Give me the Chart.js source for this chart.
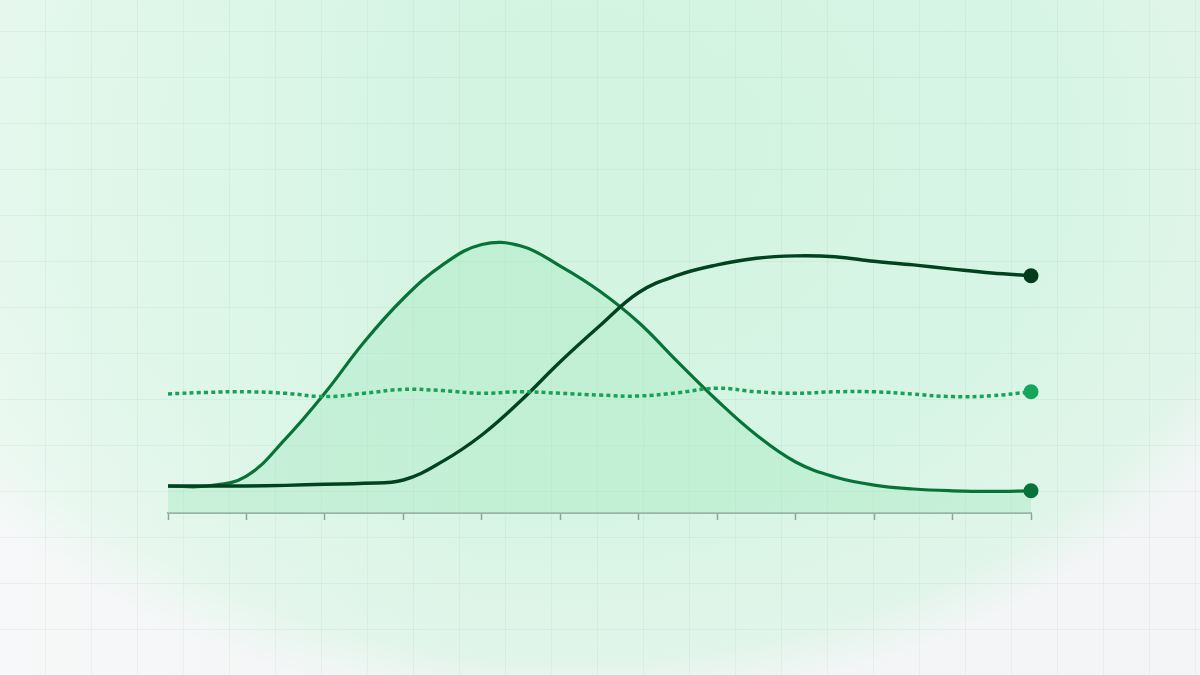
<!DOCTYPE html>
<html>
<head>
<meta charset="utf-8">
<script src="https://cdn.jsdelivr.net/npm/chart.js@4"></script>
<style>
  html, body { margin: 0; padding: 0; }
  body {
    width: 1200px;
    height: 675px;
    overflow: hidden;
    background-color: #f3f5f6;
    background-image:
      repeating-linear-gradient(90deg, transparent 0 45px, rgba(40, 90, 60, 0.05) 45px 46px),
      repeating-linear-gradient(0deg, transparent 0 45px, rgba(40, 90, 60, 0.05) 45px 46px),
      linear-gradient(90deg, rgba(255, 255, 255, 0.3), rgba(255, 255, 255, 0) 40%),
      radial-gradient(ellipse 770px 565px at 570px 150px, #d3f4e1 0%, #d7f5e4 65%, #e1f5ea 90%, #f3f5f6 99%);
  }
  #wrap { position: absolute; left: 0; top: 0; width: 1200px; height: 675px; }
</style>
</head>
<body>
<div id="wrap"><canvas id="myChart" width="1200" height="675"></canvas></div>
<script>
// posiciones en el eje x (11 intervalos, medio paso)
const pasos = [0, 0.5, 1, 1.5, 2, 2.5, 3, 3.5, 4, 4.5, 5, 5.5, 6, 6.5, 7, 7.5, 8, 8.5, 9, 9.5, 10, 10.5, 11];

// curva en campana (rellena)
const campana = [9.0, 9.0, 12.3, 24.8, 40.0, 57.0, 71.5, 82.7, 89.5, 89.0, 82.3, 74.0, 63.5,
                 50.3, 37.5, 26.0, 17.0, 12.0, 9.3, 8.0, 7.4, 7.2, 7.4];

// curva en S (oscura)
const curvaS = [9.0, 9.0, 9.0, 9.2, 9.6, 9.9, 11.0, 17.2, 26.0, 37.5, 50.4, 62.3, 73.5,
                79.3, 82.7, 84.9, 85.7, 85.4, 83.9, 82.7, 81.3, 80.0, 79.1];

// linea punteada
const punteada = [39.7, 40.2, 40.4, 39.9, 38.8, 39.9, 41.2, 40.8, 39.9, 40.4, 39.9, 39.3, 39.0,
                  40.1, 41.6, 40.4, 39.9, 40.4, 40.4, 39.6, 38.8, 39.1, 40.4];

function puntos(valores) {
    return valores.map((v, i) => ({ x: pasos[i], y: v }));
}

function soloUltimo(radio) {
    return ctx => ctx.dataIndex === pasos.length - 1 ? radio : 0;
}

document.addEventListener("DOMContentLoaded", function () {
    const ctx = document.getElementById("myChart").getContext("2d");

    new Chart(ctx, {
        type: 'line',
        data: {
            datasets: [{
                label: 'Punteada',
                data: puntos(punteada),
                borderColor: '#17a257',
                borderWidth: 3.5,
                borderDash: [4, 3.2],
                borderCapStyle: 'butt',
                tension: 0.45,
                fill: false,
                pointRadius: soloUltimo(7.5),
                pointHoverRadius: soloUltimo(7.5),
                pointBackgroundColor: '#14a65b',
                pointBorderWidth: 0,
                clip: false
            }, {
                label: 'Curva S',
                data: puntos(curvaS),
                borderColor: '#01431f',
                borderWidth: 3.4,
                tension: 0.4,
                fill: false,
                pointRadius: soloUltimo(7.5),
                pointHoverRadius: soloUltimo(7.5),
                pointBackgroundColor: '#013d1d',
                pointBorderWidth: 0,
                clip: false
            }, {
                label: 'Campana',
                data: puntos(campana),
                borderColor: '#077338',
                borderWidth: 3.2,
                tension: 0.4,
                fill: 'origin',
                backgroundColor: 'rgba(160, 232, 190, 0.38)',
                pointRadius: soloUltimo(7.5),
                pointHoverRadius: soloUltimo(7.5),
                pointBackgroundColor: '#077338',
                pointBorderWidth: 0,
                clip: false
            }]
        },
        options: {
            responsive: false,
            animation: false,
            layout: {
                padding: { left: 168, right: 169, top: 213, bottom: 155 }
            },
            plugins: {
                legend: { display: false },
                tooltip: { enabled: false }
            },
            scales: {
                x: {
                    type: 'linear',
                    min: 0,
                    max: 11,
                    ticks: { display: false, stepSize: 1 },
                    grid: {
                        display: true,
                        drawOnChartArea: false,
                        drawTicks: true,
                        tickLength: 7,
                        tickWidth: 1.5,
                        tickColor: '#8fa497'
                    },
                    border: { display: true, color: '#9db3a6', width: 2 }
                },
                y: {
                    min: 0,
                    max: 100,
                    display: false
                }
            }
        }
    });
});
</script>
</body>
</html>
